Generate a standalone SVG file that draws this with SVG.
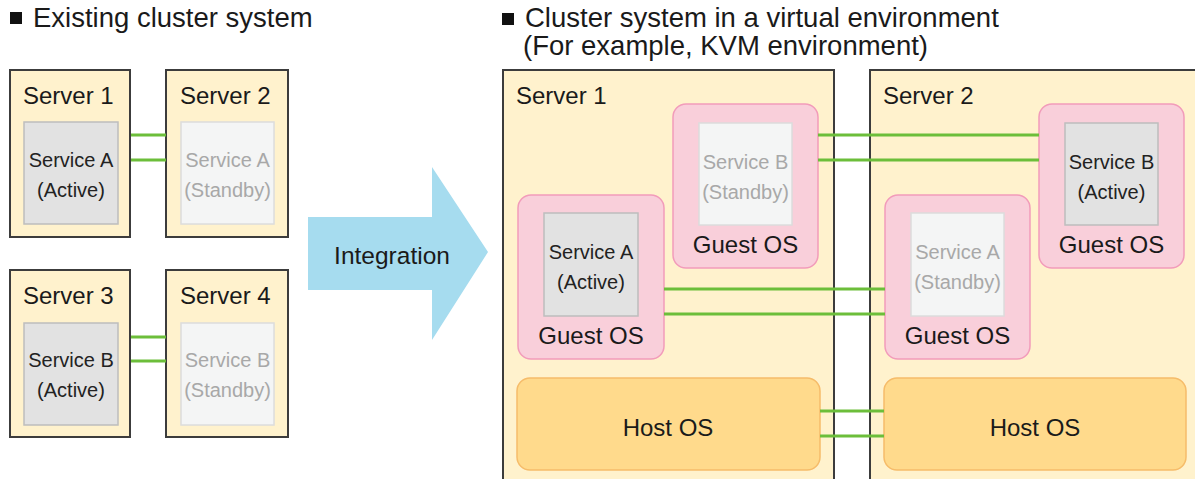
<svg xmlns="http://www.w3.org/2000/svg" width="1195" height="479" viewBox="0 0 1195 479">
<style>
text{font-family:"Liberation Sans",Arial,sans-serif;}
.title{font-size:27.5px;fill:#1a1a1a;}
.srv{fill:#FFF2CD;stroke:#3c3c3c;stroke-width:2;}
.srvlbl{font-size:24px;fill:#1a1a1a;}
.act{fill:#E2E2E2;stroke:#BDBDBD;stroke-width:1.5;}
.stb{fill:#F4F5F5;stroke:#DCDCDC;stroke-width:1.5;}
.svc{font-size:20px;text-anchor:middle;}
.svca{fill:#222;}
.svcs{fill:#A8A8A8;}
.guest{fill:#F9CFDA;stroke:#F29CBA;stroke-width:1.5;}
.host{fill:#FFDA8C;stroke:#F6BC6A;stroke-width:1.5;}
.oslbl{font-size:24px;text-anchor:middle;fill:#1a1a1a;}
.link{stroke:#6CBE3A;stroke-width:3;fill:none;}
</style>

<!-- Titles -->
<g id="title-left">
  <rect x="10" y="12" width="12" height="12" fill="#111"/>
  <text class="title" x="33" y="27">Existing cluster system</text>
</g>
<g id="title-right">
  <rect x="502" y="13" width="12" height="12" fill="#111"/>
  <text class="title" x="525" y="27">Cluster system in a virtual environment</text>
  <text class="title" x="523" y="55">(For example, KVM environment)</text>
</g>

<!-- Left: existing cluster -->
<g id="l-server1">
  <rect class="srv" x="10" y="70" width="120" height="167"/>
  <text class="srvlbl" x="23" y="104">Server 1</text>
  <rect class="act" x="24" y="122" width="94" height="102"/>
  <text class="svc svca" x="71" y="167">Service A</text>
  <text class="svc svca" x="71" y="197">(Active)</text>
</g>
<g id="l-server2">
  <rect class="srv" x="166" y="70" width="122" height="167"/>
  <text class="srvlbl" x="180" y="104">Server 2</text>
  <rect class="stb" x="181" y="122" width="93" height="102"/>
  <text class="svc svcs" x="227.5" y="167">Service A</text>
  <text class="svc svcs" x="227.5" y="197">(Standby)</text>
</g>
<g id="l-server3">
  <rect class="srv" x="10" y="270" width="120" height="167"/>
  <text class="srvlbl" x="23" y="304">Server 3</text>
  <rect class="act" x="24" y="323" width="94" height="102"/>
  <text class="svc svca" x="71" y="367">Service B</text>
  <text class="svc svca" x="71" y="397">(Active)</text>
</g>
<g id="l-server4">
  <rect class="srv" x="166" y="270" width="122" height="167"/>
  <text class="srvlbl" x="180" y="304">Server 4</text>
  <rect class="stb" x="181" y="323" width="93" height="102"/>
  <text class="svc svcs" x="227.5" y="367">Service B</text>
  <text class="svc svcs" x="227.5" y="397">(Standby)</text>
</g>

<!-- Integration arrow -->
<g id="integration">
  <polygon points="308,217 432,217 432,167 488,252 432,340 432,290 308,290" fill="#A6DCEF"/>
  <text x="392" y="264" font-size="24.5" text-anchor="middle" fill="#1a1a1a">Integration</text>
</g>

<!-- Right: virtual environment -->
<g id="r-server1">
  <rect class="srv" x="503" y="70" width="331" height="420"/>
  <text class="srvlbl" x="516" y="104">Server 1</text>
</g>
<g id="r-server2">
  <rect class="srv" x="870" y="70" width="340" height="420"/>
  <text class="srvlbl" x="883" y="104">Server 2</text>
</g>

<g id="r1-guest-b">
  <rect class="guest" x="673" y="104" width="145" height="164" rx="13"/>
  <rect class="stb" x="699" y="123" width="93" height="102"/>
  <text class="svc svcs" x="745.5" y="169">Service B</text>
  <text class="svc svcs" x="745.5" y="199">(Standby)</text>
  <text class="oslbl" x="745.5" y="253">Guest OS</text>
</g>
<g id="r1-guest-a">
  <rect class="guest" x="518" y="195" width="146" height="164" rx="13"/>
  <rect class="act" x="544" y="213" width="94" height="103"/>
  <text class="svc svca" x="591" y="259">Service A</text>
  <text class="svc svca" x="591" y="289">(Active)</text>
  <text class="oslbl" x="591" y="344">Guest OS</text>
</g>
<g id="r1-host">
  <rect class="host" x="517" y="378" width="303" height="92" rx="13"/>
  <text class="oslbl" x="668" y="436">Host OS</text>
</g>

<g id="r2-guest-b">
  <rect class="guest" x="1039" y="104" width="145" height="164" rx="13"/>
  <rect class="act" x="1065" y="123" width="93" height="102"/>
  <text class="svc svca" x="1111.5" y="169">Service B</text>
  <text class="svc svca" x="1111.5" y="199">(Active)</text>
  <text class="oslbl" x="1111.5" y="253">Guest OS</text>
</g>
<g id="r2-guest-a">
  <rect class="guest" x="885" y="195" width="145" height="164" rx="13"/>
  <rect class="stb" x="911" y="213" width="93" height="103"/>
  <text class="svc svcs" x="957.5" y="259">Service A</text>
  <text class="svc svcs" x="957.5" y="289">(Standby)</text>
  <text class="oslbl" x="957.5" y="344">Guest OS</text>
</g>
<g id="r2-host">
  <rect class="host" x="884" y="378" width="302" height="92" rx="13"/>
  <text class="oslbl" x="1035" y="436">Host OS</text>
</g>

<!-- Connectors -->
<g id="connectors">
  <line class="link" x1="131" y1="135" x2="166" y2="135"/>
  <line class="link" x1="131" y1="160" x2="166" y2="160"/>
  <line class="link" x1="131" y1="337" x2="166" y2="337"/>
  <line class="link" x1="131" y1="361" x2="166" y2="361"/>
  <line class="link" x1="818" y1="135" x2="1039" y2="135"/>
  <line class="link" x1="818" y1="160" x2="1039" y2="160"/>
  <line class="link" x1="664" y1="289" x2="885" y2="289"/>
  <line class="link" x1="664" y1="314" x2="885" y2="314"/>
  <line class="link" x1="820" y1="411" x2="884" y2="411"/>
  <line class="link" x1="820" y1="436" x2="884" y2="436"/>
</g>
</svg>
